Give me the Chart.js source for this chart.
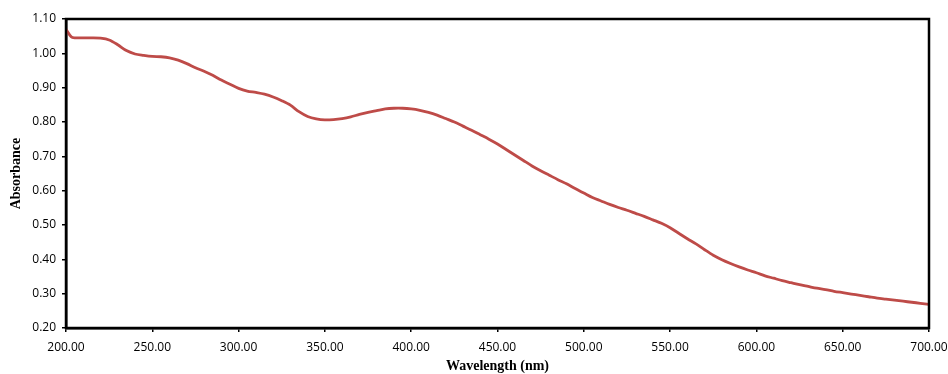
<!DOCTYPE html>
<html>
<head>
<meta charset="utf-8">
<script src="https://cdn.jsdelivr.net/npm/chart.js@4/dist/chart.umd.min.js"></script>
<style>
  html, body { margin: 0; padding: 0; background: #fff; }
  #wrap { width: 948px; height: 374px; }
</style>
</head>
<body>
<div id="wrap"><canvas id="chart" width="948" height="374"></canvas></div>
<script>
// wavelength (nm)
const wavelengths = [
  200, 203, 205, 210, 215, 220, 225, 230, 235, 240, 245, 250, 255, 260, 265, 270,
  275, 280, 285, 290, 295, 300, 305, 310, 315, 320, 325, 330, 335, 340, 345, 350,
  355, 360, 365, 370, 375, 380, 385, 390, 395, 400, 405, 410, 415, 420, 425, 430,
  435, 440, 445, 450, 455, 460, 465, 470, 475, 480, 485, 490, 495, 500, 505, 510,
  515, 520, 525, 530, 535, 540, 545, 550, 555, 560, 565, 570, 575, 580, 585, 590,
  595, 600, 605, 610, 615, 620, 625, 630, 635, 640, 645, 650, 655, 660, 665, 670,
  675, 680, 685, 690, 695, 700
];
const absorbance = [
  1.070, 1.048, 1.045, 1.045, 1.045, 1.044, 1.039, 1.025, 1.008, 0.998, 0.994, 0.991, 0.990, 0.987, 0.980, 0.970,
  0.958, 0.948, 0.936, 0.922, 0.910, 0.898, 0.890, 0.886, 0.881, 0.873, 0.862, 0.849, 0.830, 0.816, 0.809, 0.806,
  0.807, 0.810, 0.815, 0.822, 0.828, 0.833, 0.838, 0.840, 0.840, 0.838, 0.834, 0.828, 0.820, 0.810, 0.800, 0.788,
  0.776, 0.763, 0.750, 0.736, 0.720, 0.704, 0.688, 0.672, 0.658, 0.645, 0.632, 0.620, 0.606, 0.593, 0.580, 0.570,
  0.560, 0.551, 0.543, 0.534, 0.525, 0.515, 0.505, 0.492, 0.476, 0.460, 0.445, 0.428, 0.412, 0.399, 0.388, 0.378,
  0.369, 0.361, 0.352, 0.345, 0.338, 0.332, 0.326, 0.321, 0.316, 0.312, 0.307, 0.303, 0.299, 0.295, 0.291, 0.287,
  0.284, 0.281, 0.278, 0.275, 0.272, 0.269
];
const xRange = [200, 700, 50];
const yRange = [0.2, 1.1, 0.1];
const xTitle = "Wavelength (nm)";
const yTitle = "Absorbance";

const points = wavelengths.map((w, i) => ({ x: w, y: absorbance[i] }));

// black frame round the plot area
const frame = {
  id: "frame",
  afterDatasetsDraw(chart) {
    const { ctx, chartArea: a } = chart;
    ctx.save();
    ctx.strokeStyle = "#000";
    ctx.lineWidth = 2.5;
    ctx.strokeRect(a.left, a.top, a.right - a.left, a.bottom - a.top);
    ctx.restore();
  },
};

const tickFont = { family: "'Open Sans', sans-serif", size: 12 };
const titleFont = { family: "'Liberation Serif', 'Times New Roman', serif", size: 14, weight: "bold" };

new Chart(document.getElementById("chart"), {
  type: "scatter",
  data: {
    datasets: [{
      data: points,
      showLine: true,
      borderColor: "#BE4B48",
      borderWidth: 2.8,
      pointRadius: 0,
      tension: 0.3,
      fill: false,
    }],
  },
  options: {
    responsive: false,
    animation: false,
    layout: { padding: { top: 19, right: 19, left: 0, bottom: 0 } },
    plugins: { legend: { display: false }, tooltip: { enabled: false } },
    scales: {
      x: {
        type: "linear",
        min: xRange[0],
        max: xRange[1],
        afterFit: s => { s.height = 46; s.paddingLeft = 0; s.paddingRight = 0; },
        ticks: {
          stepSize: xRange[2],
          color: "#000",
          font: tickFont,
          padding: 8,
          maxRotation: 0,
          callback: v => v.toFixed(2),
        },
        grid: { drawOnChartArea: false, tickLength: 4, color: "#000", lineWidth: 1.5 },
        border: { display: true, color: "#000", width: 2.5 },
        title: { display: true, text: xTitle, color: "#000", font: titleFont, padding: { top: 0, bottom: -1 } },
      },
      y: {
        min: yRange[0],
        max: yRange[1],
        afterFit: s => { s.width = 66; s.paddingTop = 0; s.paddingBottom = 0; },
        ticks: {
          stepSize: yRange[2],
          color: "#000",
          font: tickFont,
          padding: 6,
          callback: v => v.toFixed(2),
        },
        grid: { drawOnChartArea: false, tickLength: 4, color: "#000", lineWidth: 1.5 },
        border: { display: true, color: "#000", width: 2.5 },
        title: { display: true, text: yTitle, color: "#000", font: titleFont, padding: { top: 8, bottom: 0 } },
      },
    },
  },
  plugins: [frame],
});
</script>
</body>
</html>
